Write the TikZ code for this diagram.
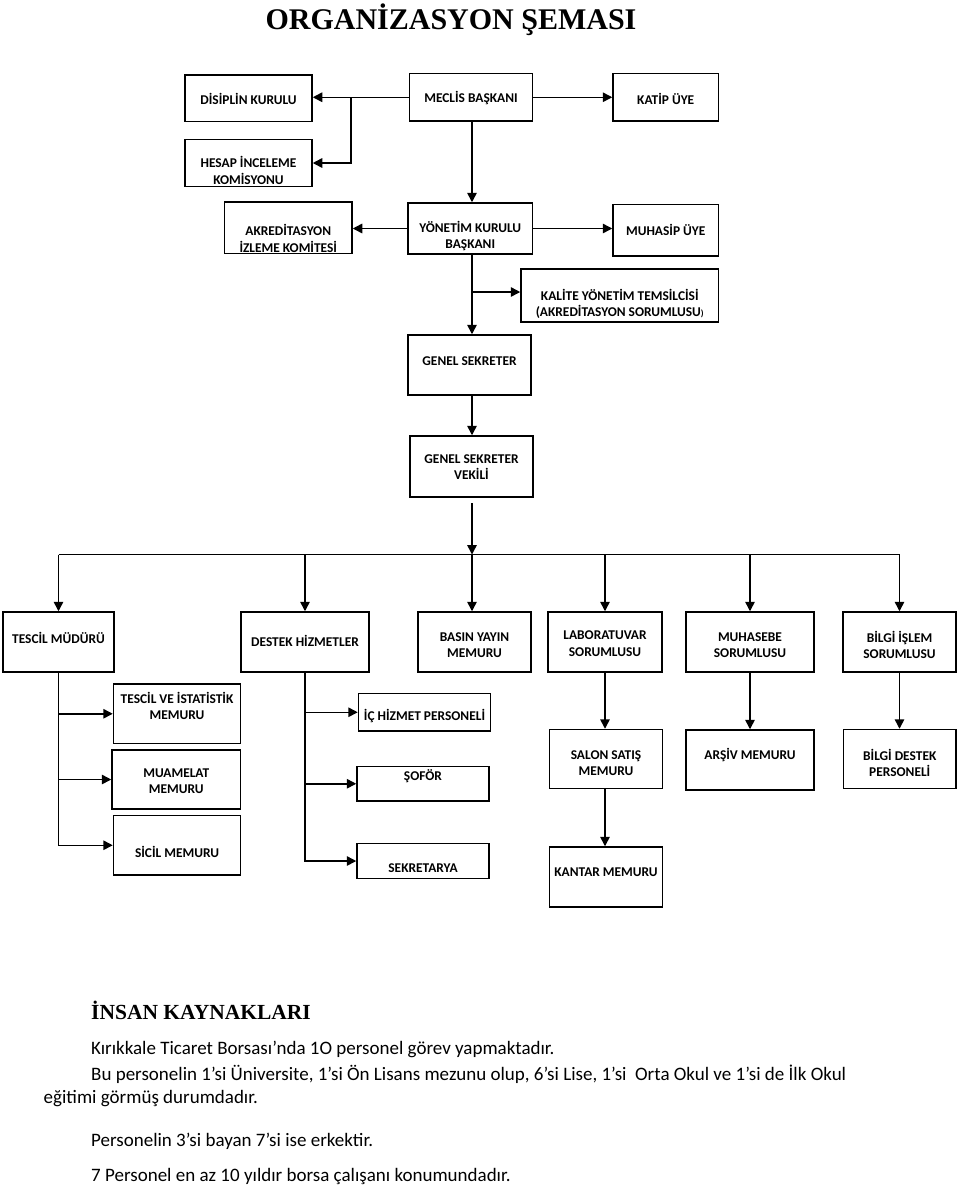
\documentclass[tikz,border=0pt]{standalone}
\usepackage{fontspec}
\newfontfamily\carl{Carlito}
\newfontfamily\libser{Liberation Serif}
\usetikzlibrary{arrows.meta,fit}
\newcommand\obox[7]{%
  \node[box, fit={(#2,#3) (#4,#5)}] (#1) {};
  \node[lbl] (#1t) at (#1.center |- 0,#6) {#7};}
\begin{document}
\begin{tikzpicture}[x=1pt,y=-1pt,
  box/.style={draw, line width=1.5pt, inner sep=0pt},
  lbl/.style={font=\carl\bfseries\fontsize{13.4}{16.5}\selectfont, align=center, inner sep=0pt},
  ln/.style={line width=1.5pt},
  arr/.style={line width=1.5pt, -{Triangle[length=9.5pt,width=9.5pt]}},
  body/.style={font=\carl\fontsize{19}{22}\selectfont, anchor=base west, inner sep=0pt}]
\useasboundingbox (0,0) rectangle (960,1187);

% title
\node[font=\libser\bfseries\fontsize{30}{36}\selectfont, anchor=base, inner sep=0pt] (title) at (451,29) {ORGANİZASYON ŞEMASI};

% boxes
\obox{dis}{185}{75}{312}{121.5}{99}{DİSİPLİN KURULU}
\obox{mec}{409.5}{73.5}{532.5}{121}{98}{MECLİS BAŞKANI}
\obox{kat}{613}{73.5}{718.5}{121}{99}{KATİP ÜYE}
\obox{hes}{185}{139.5}{312}{186.5}{170.5}{HESAP İNCELEME\\KOMİSYONU}
\obox{akr}{224.5}{202}{352}{253.5}{238.5}{AKREDİTASYON\\İZLEME KOMİTESİ}
\obox{yon}{408}{203}{532.5}{254}{236}{YÖNETİM KURULU\\BAŞKANI}
\obox{muh}{613}{204.5}{718.5}{256}{230}{MUHASİP ÜYE}
\obox{kal}{521}{269}{718.5}{322}{304}{KALİTE YÖNETİM TEMSİLCİSİ\\(AKREDİTASYON SORUMLUSU{\fontsize{9}{9}\selectfont)}}
\obox{gs}{408}{335}{531}{395}{361}{GENEL SEKRETER}
\obox{gsv}{410}{436}{533}{497}{467}{GENEL SEKRETER\\VEKİLİ}

\obox{tm}{3}{612}{114}{672}{638}{TESCİL MÜDÜRÜ}
\obox{dh}{241}{612}{369}{672}{641}{DESTEK HİZMETLER}
\obox{by}{418}{612}{531}{672}{645}{BASIN YAYIN\\MEMURU}
\obox{lab}{548}{612}{662}{672}{643.5}{LABORATUVAR\\SORUMLUSU}
\obox{mhs}{686}{612}{814}{672}{645}{MUHASEBE\\SORUMLUSU}
\obox{bis}{843}{612}{956}{672}{645}{BİLGİ İŞLEM\\SORUMLUSU}

\obox{tis}{113.5}{684}{240.5}{743.5}{706}{TESCİL VE İSTATİSTİK\\MEMURU}
\obox{mua}{112}{750}{240.5}{809}{781}{MUAMELAT\\MEMURU}
\obox{sic}{113.5}{815.5}{240.5}{875}{851.5}{SİCİL MEMURU}
\obox{ic}{358.5}{693.5}{490.5}{731}{716}{İÇ HİZMET PERSONELİ}
\obox{sof}{357}{766.5}{489}{801}{776}{ŞOFÖR}
\obox{sek}{357}{843.5}{489}{878.5}{868}{SEKRETARYA}
\obox{sal}{549.5}{729.5}{662.5}{788.5}{763}{SALON SATIŞ\\MEMURU}
\obox{kan}{549.5}{847}{662.5}{907}{872}{KANTAR MEMURU}
\obox{ars}{686}{730}{814}{790}{755}{ARŞİV MEMURU}
\obox{bds}{843.5}{729.5}{956}{788.5}{763}{BİLGİ DESTEK\\PERSONELİ}

% helper coordinates
\coordinate (sp) at (472,0);
\coordinate (j1) at (351,0);
\coordinate (kj) at (472,292);
\coordinate (vb) at (472,503);
\coordinate (bus) at (472,554.5);

% connectors
\draw[arr] (mec.west) -- (mec.west -| dis.east);
\draw[arr] (mec.west -| j1) |- (hes.east);
\draw[arr] (mec.east) -- (mec.east -| kat.west);
\draw[arr] (mec.south -| sp) -- (yon.north -| sp);
\draw[arr] (yon.west) -- (yon.west -| akr.east);
\draw[arr] (yon.east) -- (yon.east -| muh.west);
\draw[arr] (yon.south -| sp) -- (gs.north -| sp);
\draw[arr] (kj) -- (kj -| kal.west);
\draw[arr] (gs.south -| sp) -- (gsv.north -| sp);
\draw[arr] (vb) -- (bus);
\draw[ln] (bus -| tm.north) -- (bus -| bis.north);
\draw[arr] (bus -| tm.north) -- (tm.north);
\draw[arr] (bus -| dh.north) -- (dh.north);
\draw[arr] (bus) -- (by.north -| sp);
\draw[arr] (bus -| lab.north) -- (lab.north);
\draw[arr] (bus -| mhs.north) -- (mhs.north);
\draw[arr] (bus -| bis.north) -- (bis.north);

\draw[arr] (tm.south) |- (sic.west);
\draw[arr] (tm.south |- tis.west) -- (tis.west);
\draw[arr] (tm.south |- mua.west) -- (mua.west);
\draw[arr] (dh.south) |- (sek.west);
\draw[arr] (dh.south |- ic.west) -- (ic.west);
\draw[arr] (dh.south |- sof.west) -- (sof.west);
\draw[arr] (lab.south) -- (lab.south |- sal.north);
\draw[arr] (lab.south |- sal.south) -- (lab.south |- kan.north);
\draw[arr] (mhs.south) -- (mhs.south |- ars.north);
\draw[arr] (bis.south) -- (bis.south |- bds.north);

% text block
\node[font=\libser\bfseries\fontsize{21.5}{26}\selectfont, anchor=base west, inner sep=0pt] (hr) at (91,1019) {İNSAN KAYNAKLARI};
\node[body] (p1) at (91,1054) {Kırıkkale Ticaret Borsası’nda 1O personel görev yapmaktadır.};
\node[body] (p2) at (91,1080) {Bu personelin 1’si Üniversite, 1’si Ön Lisans mezunu olup, 6’si Lise, 1’si\ \ Orta Okul ve 1’si de İlk Okul};
\node[body] (p3) at (43.5,1103) {eğitimi görmüş durumdadır.};
\node[body] (p4) at (91,1146) {Personelin 3’si bayan 7’si ise erkektir.};
\node[body] (p5) at (91,1181) {7 Personel en az 10 yıldır borsa çalışanı konumundadır.};
\end{tikzpicture}
\end{document}
